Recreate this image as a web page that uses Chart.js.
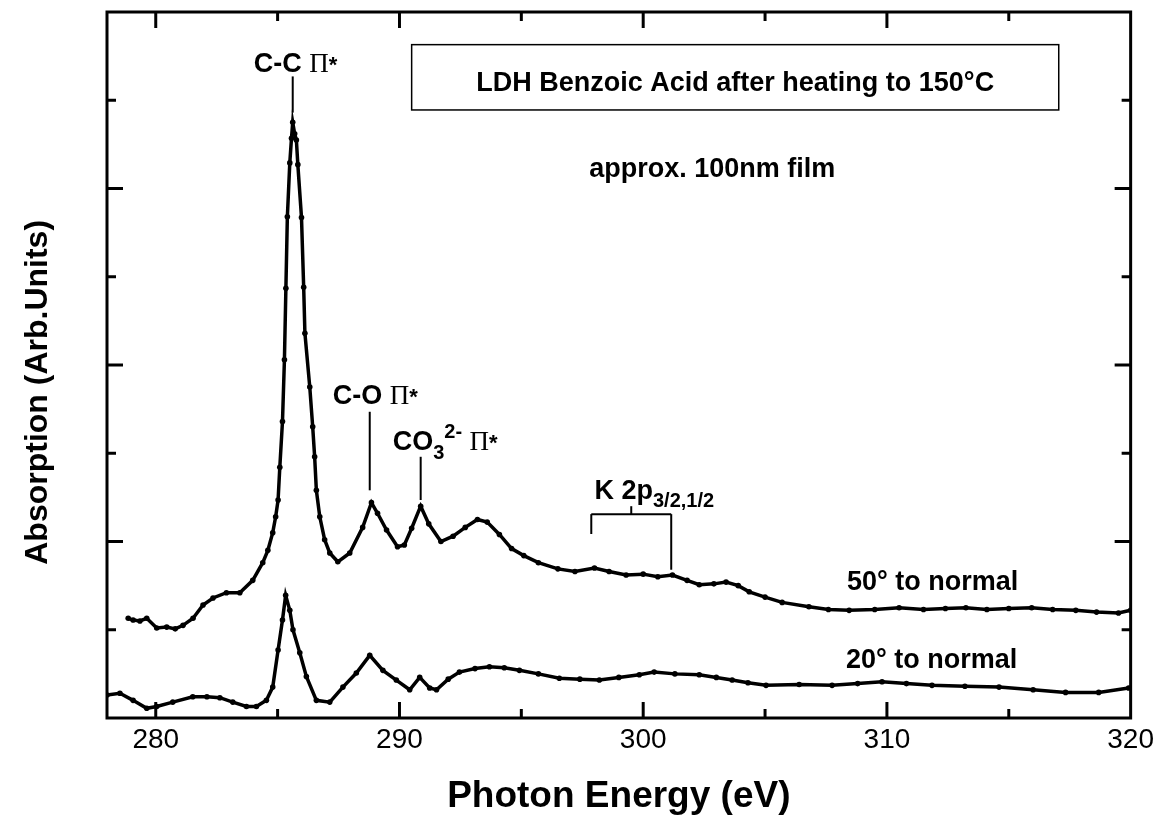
<!DOCTYPE html>
<html>
<head>
<meta charset="utf-8">
<script src="https://cdn.jsdelivr.net/npm/chart.js@4.4.0/dist/chart.umd.min.js"></script>
<style>
    html, body { margin: 0; padding: 0; background: #fff; }
    #wrap { width: 1159px; height: 819px; }
</style>
</head>
<body>
<div id="wrap"><canvas id="nexafsChart" width="1159" height="819"></canvas></div>
<script>
// 50° to normal
const energy50 = [278.87, 279.07, 279.35, 279.63, 280.04, 280.45, 280.8, 281.12, 281.53, 281.94,
    282.35, 282.9, 283.45, 283.98, 284.39, 284.6, 284.8, 284.92, 285.02, 285.09,
    285.2, 285.28, 285.34, 285.4, 285.5, 285.57, 285.62, 285.7, 285.77, 285.83,
    285.98, 286.07, 286.12, 286.32, 286.44, 286.52, 286.59, 286.73, 286.93, 287.14,
    287.47, 287.96, 288.49, 288.85, 289.1, 289.47, 289.92, 290.2, 290.5, 290.87,
    291.2, 291.7, 292.2, 292.7, 293.2, 293.6, 294.1, 294.6, 295.1, 295.7,
    296.5, 297.2, 298.0, 298.6, 299.3, 300.0, 300.6, 301.2, 301.8, 302.3,
    302.9, 303.4, 303.9, 304.35, 305.0, 305.7, 306.8, 307.6, 308.45, 309.5,
    310.5, 311.5, 312.4, 313.24, 314.1, 315.0, 315.94, 316.8, 317.75, 318.6,
    319.5, 320.0]
const absorb50 = [1.13, 1.11, 1.10, 1.13, 1.02, 1.03, 1.01, 1.05, 1.13, 1.28,
    1.36, 1.42, 1.42, 1.56, 1.76, 1.90, 2.10, 2.28, 2.47, 2.84,
    3.36, 4.06, 4.87, 5.68, 6.29, 6.57, 6.75, 6.62, 6.55, 6.27,
    5.67, 4.88, 4.36, 3.75, 3.30, 2.96, 2.58, 2.28, 2.02, 1.87,
    1.77, 1.87, 2.16, 2.44, 2.32, 2.13, 1.94, 1.96, 2.15, 2.40,
    2.20, 2.00, 2.06, 2.16, 2.25, 2.22, 2.08, 1.92, 1.84, 1.76,
    1.69, 1.66, 1.70, 1.66, 1.62, 1.63, 1.60, 1.62, 1.56, 1.51,
    1.52, 1.54, 1.50, 1.43, 1.37, 1.31, 1.26, 1.23, 1.22, 1.23,
    1.25, 1.23, 1.24, 1.25, 1.23, 1.24, 1.25, 1.23, 1.22, 1.20,
    1.19, 1.22]

// 20° to normal
const energy20 = [278.0, 278.53, 279.07, 279.63, 280.04, 280.7, 281.52, 282.1, 282.63, 283.16,
    283.72, 284.13, 284.54, 284.8, 285.02, 285.2, 285.33, 285.5, 285.63, 285.91,
    286.18, 286.59, 287.14, 287.68, 288.23, 288.78, 289.32, 289.87, 290.42, 290.83,
    291.24, 291.52, 292.0, 292.46, 293.1, 293.69, 294.3, 294.92, 295.7, 296.56,
    297.4, 298.2, 299.0, 299.84, 300.45, 301.3, 302.3, 303.0, 303.65, 304.3,
    305.04, 306.4, 307.75, 308.8, 309.8, 310.8, 311.85, 313.2, 314.6, 316.0,
    317.33, 318.69, 319.92]
const absorb20 = [0.26, 0.28, 0.20, 0.11, 0.13, 0.18, 0.24, 0.24, 0.23, 0.18,
    0.13, 0.13, 0.20, 0.35, 0.77, 1.11, 1.39, 1.22, 1.00, 0.74,
    0.47, 0.20, 0.18, 0.35, 0.51, 0.71, 0.54, 0.43, 0.32, 0.46,
    0.34, 0.32, 0.44, 0.52, 0.56, 0.58, 0.57, 0.54, 0.50, 0.45,
    0.44, 0.43, 0.46, 0.49, 0.52, 0.50, 0.49, 0.46, 0.43, 0.40,
    0.37, 0.38, 0.37, 0.39, 0.41, 0.39, 0.37, 0.36, 0.35, 0.32,
    0.29, 0.29, 0.34]

const xMin = 278, xMax = 320, xStep = 5
const yMin = 0, yMax = 8, yStep = 1

const sans = '"Liberation Sans", Arial, Helvetica, sans-serif'
const serif = '"Liberation Serif", "Times New Roman", serif'

function toPoints(xs, ys) {
    return xs.map((e, i) => ({ x: e, y: ys[i] }))
}

function line(ctx, x1, y1, x2, y2) {
    ctx.beginPath();
    ctx.moveTo(x1, y1);
    ctx.lineTo(x2, y2);
    ctx.stroke();
}

// draws a row of text pieces with different fonts, left aligned
function drawRuns(ctx, x, y, runs) {
    let cx = x;
    ctx.textAlign = 'left';
    ctx.textBaseline = 'alphabetic';
    runs.forEach(r => {
        ctx.font = r.font;
        ctx.fillText(r.text, cx, y + (r.dy || 0));
        cx += ctx.measureText(r.text).width;
    });
}

const frameAndNotes = {
    id: 'frameAndNotes',
    afterDatasetsDraw(chart) {
        const { ctx, chartArea: a, scales: { x, y } } = chart;
        const P = (e, v) => [x.getPixelForValue(e), y.getPixelForValue(v)];
        ctx.save();
        ctx.strokeStyle = '#000';
        ctx.fillStyle = '#000';

        // box round the plot
        ctx.lineWidth = 3;
        ctx.strokeRect(a.left, a.top, a.right - a.left, a.bottom - a.top);

        // ticks point inwards, on all four sides
        x.ticks.forEach(t => {
            if (t.value <= xMin || t.value >= xMax) return;
            const px = x.getPixelForValue(t.value);
            const len = t.value % 10 === 0 ? 16 : 9;
            line(ctx, px, a.bottom, px, a.bottom - len);
            line(ctx, px, a.top, px, a.top + len);
        });
        y.ticks.forEach(t => {
            if (t.value <= yMin || t.value >= yMax) return;
            const py = y.getPixelForValue(t.value);
            const len = t.value % 2 === 0 ? 16 : 9;
            line(ctx, a.left, py, a.left + len, py);
            line(ctx, a.right, py, a.right - len, py);
        });

        // y axis title, sits a little below the middle of the axis
        ctx.save();
        ctx.translate(38, y.getPixelForValue(3.69));
        ctx.rotate(-Math.PI / 2);
        ctx.font = 'bold 32px ' + sans;
        ctx.textAlign = 'center';
        ctx.textBaseline = 'middle';
        ctx.fillText('Absorption (Arb.Units)', 0, 0);
        ctx.restore();

        const big = 'bold 27px ' + sans;
        const small = 'bold 20px ' + sans;
        const pi = '27px ' + serif;
        const star = 'bold 22px ' + sans;

        // peak labels
        let p = P(284.02, 7.32);
        drawRuns(ctx, p[0], p[1], [{ text: 'C-C ', font: big }, { text: 'Π', font: pi }, { text: '*', font: star }]);
        p = P(287.26, 3.56);
        drawRuns(ctx, p[0], p[1], [{ text: 'C-O ', font: big }, { text: 'Π', font: pi }, { text: '*', font: star }]);
        p = P(289.72, 3.04);
        drawRuns(ctx, p[0], p[1], [
            { text: 'CO', font: big }, { text: '3', font: small, dy: 9 }, { text: '2-', font: small, dy: -12 },
            { text: ' ', font: big }, { text: 'Π', font: pi }, { text: '*', font: star }]);
        p = P(298.0, 2.48);
        drawRuns(ctx, p[0], p[1], [{ text: 'K 2p', font: big }, { text: '3/2,1/2', font: small, dy: 8 }]);

        ctx.lineWidth = 2;
        let a1 = P(285.62, 7.27), a2 = P(285.62, 6.86);
        line(ctx, a1[0], a1[1], a2[0], a2[1]);
        a1 = P(288.78, 3.47); a2 = P(288.78, 2.58);
        line(ctx, a1[0], a1[1], a2[0], a2[1]);
        a1 = P(290.87, 2.96); a2 = P(290.87, 2.47);
        line(ctx, a1[0], a1[1], a2[0], a2[1]);

        // K 2p bracket
        const bl = P(297.87, 2.31), br = P(301.15, 2.31), bm = P(299.51, 2.40);
        line(ctx, bl[0], bl[1], br[0], br[1]);
        line(ctx, bm[0], bm[1], bm[0], bl[1]);
        line(ctx, bl[0], bl[1], bl[0], y.getPixelForValue(2.085));
        line(ctx, br[0], br[1], br[0], y.getPixelForValue(1.68));

        // title box
        const t1 = P(290.5, 7.63), t2 = P(317.05, 6.89);
        ctx.lineWidth = 1.5;
        ctx.strokeRect(t1[0], t1[1], t2[0] - t1[0], t2[1] - t1[1]);
        ctx.font = big;
        ctx.textAlign = 'center';
        ctx.fillText('LDH Benzoic Acid after heating to 150°C', (t1[0] + t2[0]) / 2, y.getPixelForValue(7.10));
        p = P(302.83, 6.13);
        ctx.fillText('approx. 100nm film', p[0], p[1]);

        // series labels
        p = P(308.36, 1.45);
        drawRuns(ctx, p[0], p[1], [{ text: '50° to normal', font: big }]);
        p = P(308.32, 0.567);
        drawRuns(ctx, p[0], p[1], [{ text: '20° to normal', font: big }]);

        ctx.restore();
    }
};

function createChart() {
    const seriesStyle = {
        showLine: true,
        borderColor: '#000',
        backgroundColor: '#000',
        borderWidth: 3.5,
        pointRadius: 2.8,
        pointBorderWidth: 0,
        tension: 0
    };

    const chartConfig = {
        type: 'scatter',
        data: {
            datasets: [
                Object.assign({ label: '50° to normal', data: toPoints(energy50, absorb50) }, seriesStyle),
                Object.assign({ label: '20° to normal', data: toPoints(energy20, absorb20) }, seriesStyle)
            ]
        },
        options: {
            responsive: false,
            animation: false,
            devicePixelRatio: 1,
            layout: { padding: { top: 12, right: 27, left: 0, bottom: 0 } },
            plugins: {
                legend: { display: false },
                tooltip: { enabled: false }
            },
            scales: {
                x: {
                    type: 'linear',
                    min: xMin,
                    max: xMax,
                    grid: { display: false, drawTicks: false },
                    border: { display: false },
                    ticks: {
                        stepSize: xStep,
                        includeBounds: false,
                        autoSkip: false,
                        maxRotation: 0,
                        padding: 5,
                        color: '#000',
                        font: { family: sans, size: 28 },
                        callback: v => (v % 10 === 0 ? String(v) : '')
                    },
                    title: {
                        display: true,
                        text: 'Photon Energy (eV)',
                        color: '#000',
                        font: { family: sans, size: 37, weight: 'bold' },
                        padding: { top: 0, bottom: 0 }
                    },
                    afterFit: s => { s.height = 101; }
                },
                y: {
                    type: 'linear',
                    min: yMin,
                    max: yMax,
                    grid: { display: false, drawTicks: false },
                    border: { display: false },
                    ticks: { display: false, stepSize: yStep },
                    title: { display: false },
                    afterFit: s => { s.width = 107; }
                }
            }
        },
        plugins: [frameAndNotes]
    };

    const ctx = document.getElementById('nexafsChart').getContext('2d');
    new Chart(ctx, chartConfig);
}

createChart();
</script>
</body>
</html>
